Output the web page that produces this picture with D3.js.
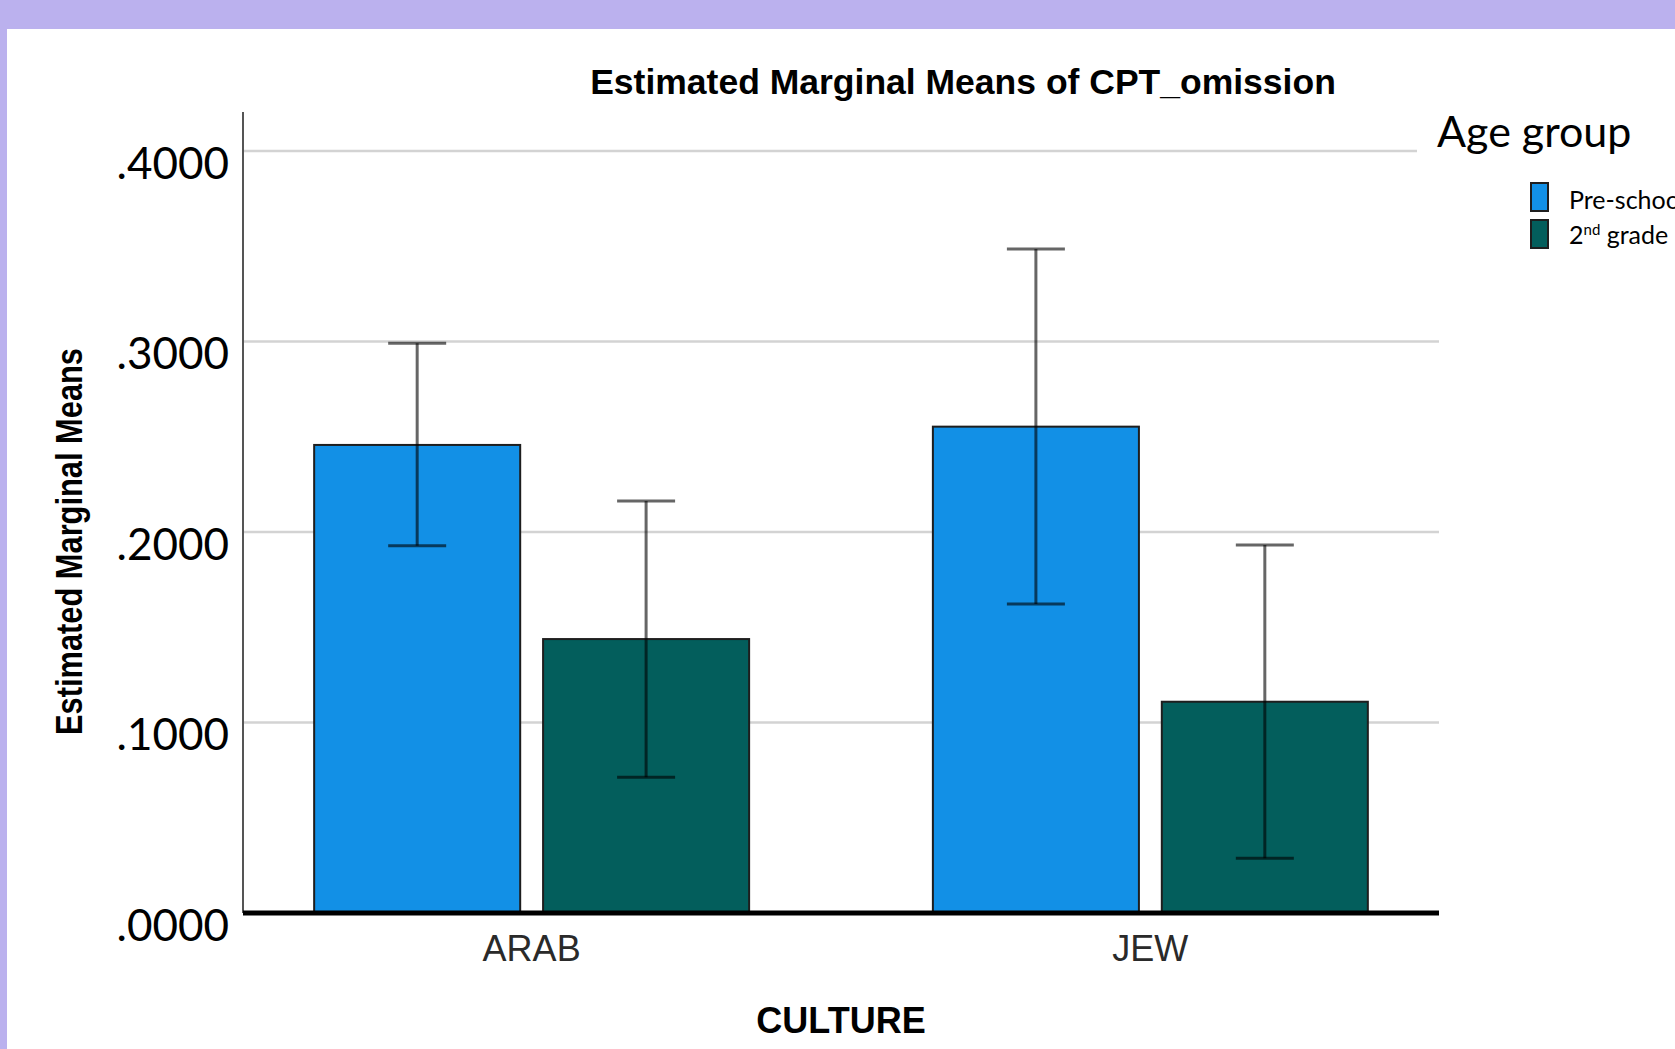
<!DOCTYPE html>
<html>
<head>
<meta charset="utf-8">
<script src="https://cdn.jsdelivr.net/npm/d3@7"></script>
<style>
  html, body { margin: 0; padding: 0; background: #ffffff; overflow: hidden; }
  svg { display: block; }
</style>
</head>
<body>
<svg id="chart" width="1675" height="1049"></svg>
<script>
// Estimated marginal means of CPT omission by culture and age group
const cultures = ["ARAB", "JEW"];
const ageGroups = ["Pre-school", "2nd grade"];
const preschoolMeans = [0.2457, 0.2553];
const preschoolLower = [0.1928, 0.1622];
const preschoolUpper = [0.2991, 0.3486];
const secondGradeMeans = [0.1438, 0.1109];
const secondGradeLower = [0.0712, 0.0287];
const secondGradeUpper = [0.2163, 0.1932];
const yTicks = [0, 0.1, 0.2, 0.3, 0.4];
const groupColors = ["#1290e6", "#035e5c"];

const rows = [];
cultures.forEach((c, i) => {
  rows.push({ culture: c, group: ageGroups[0], mean: preschoolMeans[i], lo: preschoolLower[i], hi: preschoolUpper[i] });
  rows.push({ culture: c, group: ageGroups[1], mean: secondGradeMeans[i], lo: secondGradeLower[i], hi: secondGradeUpper[i] });
});

const svg = d3.select("#chart");
const W = 1675, H = 1049;
const plotLeft = 243, plotRight = 1439, plotTop = 112;

// page frame
svg.append("rect").attr("x", 0).attr("y", 0).attr("width", W).attr("height", H).attr("fill", "#bbb1ee");
svg.append("rect").attr("x", 7).attr("y", 29).attr("width", W - 7).attr("height", H - 29).attr("fill", "#ffffff");

const y = d3.scaleLinear().domain([0, 0.4]).range([913, 151]);
const x0 = d3.scaleBand().domain(cultures).range([plotLeft, plotRight]).paddingInner(0.297).paddingOuter(0.115);
const x1 = d3.scaleBand().domain(ageGroups).range([0, x0.bandwidth()]).paddingInner(0.1);
const color = d3.scaleOrdinal().domain(ageGroups).range(groupColors);

// gridlines
svg.append("g").selectAll("line")
  .data(yTicks.filter(t => t > 0))
  .join("line")
  .attr("x1", plotLeft).attr("x2", plotRight)
  .attr("y1", d => y(d)).attr("y2", d => y(d))
  .attr("stroke", "#d3d3d3").attr("stroke-width", 2.5);

// bars
svg.append("g").selectAll("rect")
  .data(rows)
  .join("rect")
  .attr("x", d => x0(d.culture) + x1(d.group))
  .attr("width", x1.bandwidth())
  .attr("y", d => y(d.mean))
  .attr("height", d => y(0) - y(d.mean))
  .attr("fill", d => color(d.group))
  .attr("stroke", "#1e1e1e").attr("stroke-width", 2);

// error bars
const capHalf = 29;
const eb = svg.append("g")
  .attr("stroke", "#000").attr("stroke-opacity", 0.6).attr("stroke-width", 3).attr("fill", "none");
rows.forEach(d => {
  const cx = x0(d.culture) + x1(d.group) + x1.bandwidth() / 2;
  eb.append("line").attr("x1", cx).attr("x2", cx).attr("y1", y(d.hi)).attr("y2", y(d.lo));
  eb.append("line").attr("x1", cx - capHalf).attr("x2", cx + capHalf).attr("y1", y(d.hi)).attr("y2", y(d.hi));
  eb.append("line").attr("x1", cx - capHalf).attr("x2", cx + capHalf).attr("y1", y(d.lo)).attr("y2", y(d.lo));
});

// axis lines
svg.append("line").attr("x1", plotLeft).attr("x2", plotLeft).attr("y1", plotTop).attr("y2", y(0))
  .attr("stroke", "#555").attr("stroke-width", 2);
svg.append("line").attr("x1", plotLeft).attr("x2", plotRight).attr("y1", y(0)).attr("y2", y(0))
  .attr("stroke", "#000").attr("stroke-width", 5);

// y tick labels
const yAxis = d3.axisLeft(y).tickValues(yTicks).tickSize(0).tickPadding(14)
  .tickFormat(d => d3.format(".4f")(d).replace(/^0/, ""));
const yg = svg.append("g").attr("transform", `translate(${plotLeft},0)`).call(yAxis);
yg.select(".domain").remove();
yg.selectAll("text")
  .attr("dy", 27)
  .attr("fill", "#000")
  .style("font-family", "Lato, 'Open Sans', sans-serif")
  .style("font-size", "44px");

// category labels
svg.append("g").selectAll("text")
  .data(cultures)
  .join("text")
  .attr("x", d => x0(d) + x0.bandwidth() / 2)
  .attr("y", 961)
  .attr("text-anchor", "middle")
  .attr("fill", "#2a2a2a")
  .style("font-family", "'Liberation Sans', Arial, sans-serif")
  .style("font-size", "36px")
  .text(d => d);

// titles
svg.append("text")
  .attr("x", 963).attr("y", 94)
  .attr("text-anchor", "middle")
  .style("font-family", "'Liberation Sans', Arial, sans-serif")
  .style("font-weight", "bold").style("font-size", "35.5px")
  .text("Estimated Marginal Means of CPT_omission");

svg.append("text")
  .attr("x", (plotLeft + plotRight) / 2).attr("y", 1033)
  .attr("text-anchor", "middle")
  .style("font-family", "'Liberation Sans', Arial, sans-serif")
  .style("font-weight", "bold").style("font-size", "36px")
  .text("CULTURE");

svg.append("text")
  .attr("transform", "translate(81.5,541.5) rotate(-90)")
  .attr("text-anchor", "middle")
  .attr("textLength", 387).attr("lengthAdjust", "spacingAndGlyphs")
  .style("font-family", "'Liberation Sans', Arial, sans-serif")
  .style("font-weight", "bold").style("font-size", "36px")
  .text("Estimated Marginal Means");

// legend panel
svg.append("rect").attr("x", 1417).attr("y", 100).attr("width", W - 1417).attr("height", 60).attr("fill", "#ffffff");
svg.append("text")
  .attr("x", 1437).attr("y", 147)
  .style("font-family", "Lato, 'Open Sans', sans-serif")
  .style("font-size", "43px")
  .text("Age group");

const legend = svg.append("g");
const legendY = [183, 220];
ageGroups.forEach((g, i) => {
  legend.append("rect")
    .attr("x", 1531).attr("y", legendY[i]).attr("width", 17).attr("height", 28)
    .attr("fill", color(g)).attr("stroke", "#1e1e1e").attr("stroke-width", 2);
});
legend.append("text").attr("x", 1569).attr("y", 209)
  .style("font-family", "Lato, 'Open Sans', sans-serif").style("font-size", "25px")
  .text(ageGroups[0]);
const lt2 = legend.append("text").attr("x", 1569).attr("y", 243.5)
  .style("font-family", "Lato, 'Open Sans', sans-serif").style("font-size", "25px");
lt2.append("tspan").text("2");
lt2.append("tspan").attr("dy", -9).style("font-size", "15px").text("nd");
lt2.append("tspan").attr("dy", 9).text(" grade");
</script>
</body>
</html>
